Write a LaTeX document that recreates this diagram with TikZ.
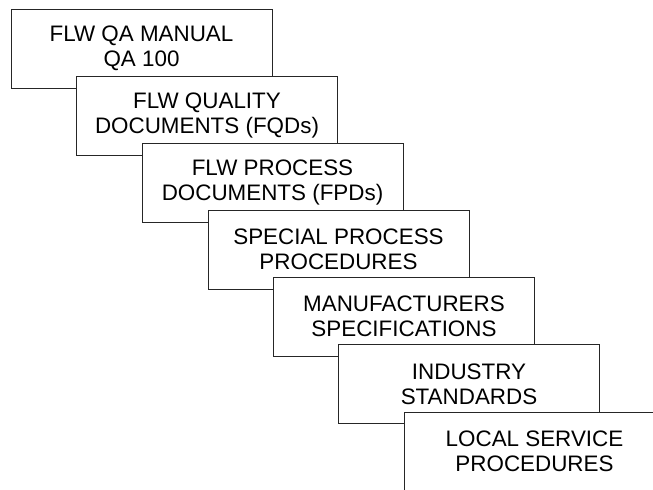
\documentclass[tikz,border=0pt]{standalone}
\usepackage{fontspec}
\setmainfont{Liberation Sans}
\usepackage{tikz}
\usetikzlibrary{positioning}

\tikzset{
    docbox/.style={draw=black!85, line width=0.75pt, fill=white, align=center,
        minimum width=195.75pt, minimum height=59.25pt, inner sep=0pt,
        font=\fontsize{16.8}{18.75}\selectfont}
}

\begin{document}
\begin{tikzpicture}[x=0.75pt, y=-0.75pt]
    \useasboundingbox (0,0) rectangle (653,489);
    \clip (0,0) rectangle (653,489);

    \node[docbox] (manual) at (141.5, 48.5)  {FLW QA MANUAL\\QA 100};
    \node[docbox] (fqd)    at (207.0, 115.5) {FLW QUALITY\\DOCUMENTS (FQDs)};
    \node[docbox] (fpd)    at (272.5, 182.5) {FLW PROCESS\\DOCUMENTS (FPDs)};
    \node[docbox] (spp)    at (338.5, 249.5) {SPECIAL PROCESS\\PROCEDURES};
    \node[docbox] (mfr)    at (404.0, 316.5) {MANUFACTURERS\\SPECIFICATIONS};
    \node[docbox] (ind)    at (469.0, 384.0) {INDUSTRY\\STANDARDS};
    \node[docbox] (lsp)    at (534.5, 451.5) {LOCAL SERVICE\\PROCEDURES};
\end{tikzpicture}
\end{document}
